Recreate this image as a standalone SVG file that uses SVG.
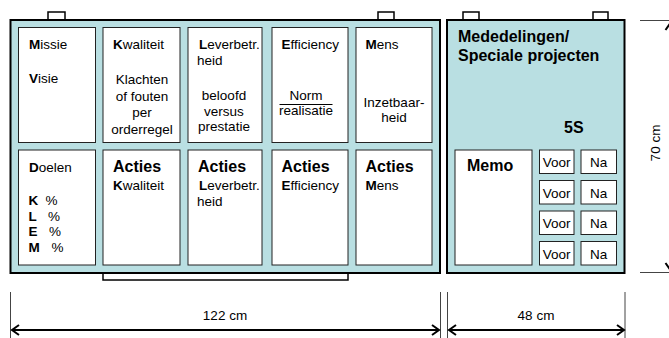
<svg xmlns="http://www.w3.org/2000/svg" width="669" height="338" viewBox="0 0 669 338">
<style>
text{font-family:"Liberation Sans",Arial,sans-serif;fill:#000}
.t{font-size:13.5px}
.b{font-weight:bold}
.h{font-size:16px;font-weight:bold}
.c{text-anchor:middle}
.board{fill:#b9dfe2;stroke:#000;stroke-width:2}
.cell{fill:#fff;stroke:#222;stroke-width:1}
.tab{fill:#fff;stroke:#000;stroke-width:1.5}
.dim{fill:none;stroke:#000;stroke-width:2}
.tick{fill:none;stroke:#444;stroke-width:1}
</style>
<rect width="669" height="338" fill="#fff"/>
<g id="tabs">
<rect class="tab" x="48" y="12" width="17" height="9"/>
<rect class="tab" x="378" y="12" width="16" height="9"/>
<rect class="tab" x="463" y="12" width="16" height="9"/>
<rect class="tab" x="593" y="12" width="15" height="9"/>
<rect class="tab" x="103" y="270" width="245" height="10"/>
</g>
<g id="board-left">
<rect class="board" x="10.5" y="20" width="429.5" height="253"/>
</g>
<g id="board-right">
<rect class="board" x="447" y="20" width="177.5" height="253"/>
<text class="h" x="458" y="42">Mededelingen/</text>
<text class="h" x="458" y="61">Speciale projecten</text>
<text class="h" x="564" y="133">5S</text>
</g>
<g id="missie">
<rect class="cell" x="18.5" y="27.5" width="77" height="115"/>
<text class="t" x="29" y="49"><tspan class="b">M</tspan>issie</text>
<text class="t" x="29" y="83"><tspan class="b">V</tspan>isie</text>
</g>
<g id="kwaliteit">
<rect class="cell" x="103" y="27.5" width="77" height="115"/>
<text class="t" x="113" y="49"><tspan class="b">K</tspan>waliteit</text>
<text class="t c" x="142" y="84">Klachten</text>
<text class="t c" x="142" y="100.5">of fouten</text>
<text class="t c" x="142" y="117">per</text>
<text class="t c" x="142" y="133.5">orderregel</text>
</g>
<g id="leverbetrouwbaarheid">
<rect class="cell" x="188" y="27.5" width="74" height="115"/>
<text class="t" x="199" y="49"><tspan class="b">L</tspan>everbetr.</text>
<text class="t" x="197" y="65">heid</text>
<text class="t c" x="224" y="100">beloofd</text>
<text class="t c" x="224" y="115.5">versus</text>
<text class="t c" x="224" y="131">prestatie</text>
</g>
<g id="efficiency">
<rect class="cell" x="272" y="27.5" width="76" height="115"/>
<text class="t" x="281.5" y="49"><tspan class="b">E</tspan>fficiency</text>
<text class="t c" x="306" y="100">Norm</text>
<line x1="279.5" y1="104.5" x2="332.5" y2="104.5" stroke="#000" stroke-width="1"/>
<text class="t c" x="306" y="115">realisatie</text>
</g>
<g id="mens">
<rect class="cell" x="356" y="27.5" width="76" height="115"/>
<text class="t" x="365.5" y="49"><tspan class="b">M</tspan>ens</text>
<text class="t c" x="394" y="106.5">Inzetbaar-</text>
<text class="t c" x="394" y="121.5">heid</text>
</g>
<g id="doelen">
<rect class="cell" x="18.5" y="150" width="77" height="115"/>
<text class="t" x="29" y="171.5"><tspan class="b">D</tspan>oelen</text>
<text class="t" x="28.5" y="205"><tspan class="b">K</tspan></text><text class="t" x="45.5" y="205">%</text>
<text class="t" x="28.5" y="220.5"><tspan class="b">L</tspan></text><text class="t" x="48" y="220.5">%</text>
<text class="t" x="28.5" y="236"><tspan class="b">E</tspan></text><text class="t" x="49" y="236">%</text>
<text class="t" x="28.5" y="251.5"><tspan class="b">M</tspan></text><text class="t" x="51.5" y="251.5">%</text>
</g>
<g id="acties-kwaliteit">
<rect class="cell" x="103" y="150" width="77" height="115"/>
<text class="h" x="113" y="171.5">Acties</text>
<text class="t" x="113" y="190"><tspan class="b">K</tspan>waliteit</text>
</g>
<g id="acties-leverbetrouwbaarheid">
<rect class="cell" x="188" y="150" width="74" height="115"/>
<text class="h" x="198" y="171.5">Acties</text>
<text class="t" x="199" y="190"><tspan class="b">L</tspan>everbetr.</text>
<text class="t" x="197" y="206">heid</text>
</g>
<g id="acties-efficiency">
<rect class="cell" x="272" y="150" width="76" height="115"/>
<text class="h" x="281.5" y="171.5">Acties</text>
<text class="t" x="281.5" y="190"><tspan class="b">E</tspan>fficiency</text>
</g>
<g id="acties-mens">
<rect class="cell" x="356" y="150" width="76" height="115"/>
<text class="h" x="365.5" y="171.5">Acties</text>
<text class="t" x="365.5" y="190"><tspan class="b">M</tspan>ens</text>
</g>
<g id="memo">
<rect class="cell" x="455" y="150" width="77" height="115"/>
<text class="h" x="467" y="170.5">Memo</text>
</g>
<g id="voor-na">
<rect class="cell" x="539.5" y="150" width="34.5" height="23.5"/>
<text class="t c" x="556.7" y="167">Voor</text>
<rect class="cell" x="581" y="150" width="35.5" height="23.5"/>
<text class="t c" x="598.7" y="167">Na</text>
<rect class="cell" x="539.5" y="180.5" width="34.5" height="23.5"/>
<text class="t c" x="556.7" y="197.5">Voor</text>
<rect class="cell" x="581" y="180.5" width="35.5" height="23.5"/>
<text class="t c" x="598.7" y="197.5">Na</text>
<rect class="cell" x="539.5" y="211" width="34.5" height="23.5"/>
<text class="t c" x="556.7" y="228">Voor</text>
<rect class="cell" x="581" y="211" width="35.5" height="23.5"/>
<text class="t c" x="598.7" y="228">Na</text>
<rect class="cell" x="539.5" y="241.5" width="34.5" height="23.5"/>
<text class="t c" x="556.7" y="258.5">Voor</text>
<rect class="cell" x="581" y="241.5" width="35.5" height="23.5"/>
<text class="t c" x="598.7" y="258.5">Na</text>
</g>
<g id="connectors">
<line class="tick" x1="10.5" y1="292" x2="10.5" y2="338"/>
<line class="tick" x1="440.5" y1="292" x2="440.5" y2="338"/>
<line class="tick" x1="447.5" y1="292" x2="447.5" y2="338"/>
<line class="tick" x1="625" y1="292" x2="625" y2="338"/>
<line class="dim" x1="12" y1="330" x2="439" y2="330"/>
<polyline class="dim" points="19,325 12,330 19,335"/>
<polyline class="dim" points="432,325 439,330 432,335"/>
<line class="dim" x1="449" y1="330" x2="624" y2="330"/>
<polyline class="dim" points="456,325 449,330 456,335"/>
<polyline class="dim" points="617,325 624,330 617,335"/>
<line class="tick" x1="640" y1="20.5" x2="669" y2="20.5"/>
<line class="tick" x1="640" y1="272.5" x2="669" y2="272.5"/>
<line class="dim" x1="671" y1="22" x2="671" y2="271"/>
<polyline class="dim" points="665.5,30 671,22 676.5,30"/>
<polyline class="dim" points="665.5,263 671,271 676.5,263"/>
</g>
<g id="labels">
<text class="t c" x="225" y="320">122 cm</text>
<text class="t c" x="536" y="320">48 cm</text>
<text class="t c" transform="translate(660,143) rotate(-90)">70 cm</text>
</g>
</svg>
